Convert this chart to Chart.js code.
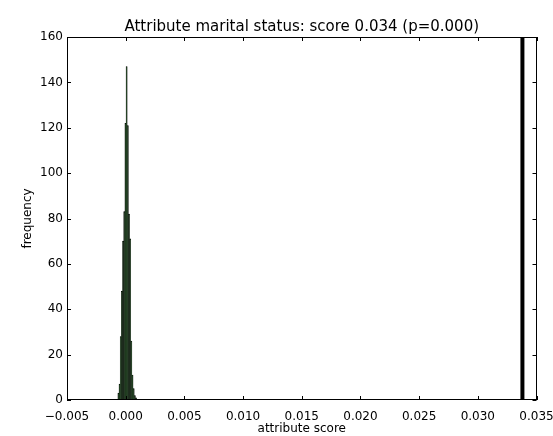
<!DOCTYPE html>
<html>
<head>
<meta charset="utf-8">
<script src="https://cdn.jsdelivr.net/npm/chart.js@4/dist/chart.umd.min.js"></script>
<style>
html,body{margin:0;padding:0;background:#fff;}
#wrap{width:553px;height:436px;}
</style>
</head>
<body>
<div id="wrap"><canvas id="c" width="553" height="436"></canvas></div>
<script>
// Histogram bin centers (attribute score under permutation) and counts
const binCenters = [-0.00062, -0.00052, -0.00042, -0.00032, -0.00022, -0.00012, -0.00002, 0.00008, 0.00018, 0.00028, 0.00038, 0.00048, 0.00058, 0.00068, 0.00078, 0.00088];
const binCounts  = [3, 7, 28, 48, 70, 83, 122, 147, 121, 82, 71, 26, 11, 5, 2, 1];
// Observed score
const observedScore = 0.0338;
const yRange = [0, 160];
const xRange = [-0.005, 0.035];
const titleText = 'Attribute marital status: score 0.034 (p=0.000)';

const FONT = "'DejaVu Sans', sans-serif";

const frameTicks = {
  id: 'frameTicks',
  afterDatasetsDraw(chart) {
    const {ctx, chartArea: a, scales} = chart;
    ctx.save();
    ctx.strokeStyle = '#000';
    ctx.lineWidth = 1;
    ctx.strokeRect(Math.round(a.left) + 0.5, Math.round(a.top) + 0.5, Math.round(a.right - a.left) - 1, Math.round(a.bottom - a.top) - 1);
    const L = 4;
    ctx.beginPath();
    scales.x.ticks.forEach(t => {
      const px = Math.round(scales.x.getPixelForValue(t.value)) + 0.5;
      ctx.moveTo(px, a.bottom); ctx.lineTo(px, a.bottom - L);
      ctx.moveTo(px, a.top); ctx.lineTo(px, a.top + L);
    });
    scales.y.ticks.forEach(t => {
      const py = Math.round(scales.y.getPixelForValue(t.value)) + 0.5;
      ctx.moveTo(a.left, py); ctx.lineTo(a.left + L, py);
      ctx.moveTo(a.right, py); ctx.lineTo(a.right - L, py);
    });
    ctx.stroke();
    ctx.restore();
  }
};

new Chart(document.getElementById('c'), {
  data: {
    datasets: [
      {
        type: 'bar',
        data: binCenters.map((x, i) => ({x: x, y: binCounts[i]})),
        backgroundColor: '#0f330f',
        borderColor: '#000',
        borderWidth: 0.5,
        barPercentage: 1.0,
        categoryPercentage: 1.0,
        order: 2
      },
      {
        type: 'line',
        data: [{x: observedScore, y: yRange[0]}, {x: observedScore, y: yRange[1]}],
        borderColor: '#000',
        borderWidth: 4,
        pointRadius: 0,
        fill: false,
        order: 1
      }
    ]
  },
  options: {
    responsive: false,
    animation: false,
    devicePixelRatio: 1,
    layout: {padding: {left: 0, right: 0, top: 0, bottom: 0}},
    plugins: {
      legend: {display: false},
      tooltip: {enabled: false},
      title: {
        display: true,
        text: titleText,
        fullSize: false,
        color: '#000',
        font: {family: FONT, size: 15, weight: 'normal'},
        padding: {top: 18, bottom: 1}
      }
    },
    scales: {
      x: {
        type: 'linear',
        min: xRange[0], max: xRange[1],
        offset: false,
        grid: {display: false},
        border: {display: false},
        afterFit(s) { s.height = 36; s.paddingRight = 16.5; s.paddingLeft = 0; },
        ticks: {
          stepSize: 0.005,
          color: '#000',
          padding: 2,
          font: {family: FONT, size: 12},
          maxRotation: 0,
          autoSkip: false,
          callback: v => {
            if (Math.abs(v) < 1e-9) v = 0;
            const s = Math.abs(v).toFixed(3);
            return v < 0 ? '\u2212' + s : s;
          }
        },
        title: {
          display: true, text: 'attribute score', color: '#000',
          font: {family: FONT, size: 12}, padding: {top: 0, bottom: 0}
        }
      },
      y: {
        type: 'linear',
        min: yRange[0], max: yRange[1],
        grid: {display: true, drawOnChartArea: false, drawTicks: false, color: 'rgba(0,0,0,0)'},
        border: {display: false},
        afterFit(s) { s.width = 67; },
        ticks: {
          stepSize: 20,
          color: '#000',
          padding: 4,
          font: {family: FONT, size: 12}
        },
        title: {
          display: true, text: 'frequency', color: '#000',
          font: {family: FONT, size: 12}, padding: {top: 21, bottom: 0}
        }
      }
    }
  },
  plugins: [frameTicks]
});
</script>
</body>
</html>
